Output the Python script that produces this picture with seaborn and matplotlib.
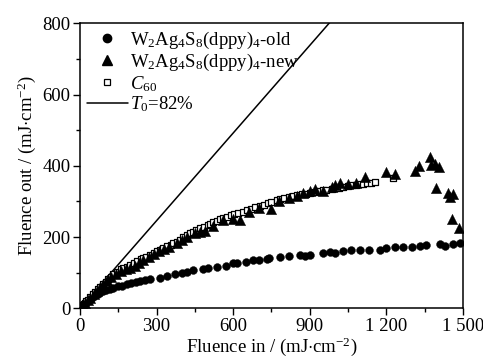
import matplotlib
matplotlib.use("Agg")
import matplotlib.pyplot as plt
import seaborn as sns
import pandas as pd
from matplotlib.lines import Line2D
from matplotlib.ticker import MultipleLocator

# ---- data ----
old_x = [5, 10, 15, 20, 25, 30, 38, 45, 52, 60, 70, 80, 90, 100, 117, 130, 150, 165, 183, 200,
         218, 235, 255, 274, 313, 340, 372, 400, 420, 444, 480, 500, 535, 570, 600, 615, 650, 678,
         700, 731, 740, 783, 820, 861, 880, 900, 950, 978, 1000, 1031, 1060, 1096, 1130, 1174,
         1200, 1235, 1265, 1300, 1330, 1357, 1409, 1430, 1460, 1487]
old_y = [4, 8, 12, 15, 18, 21, 25, 29, 33, 37, 41, 45, 48, 51, 55, 58, 62, 64, 67, 70,
         73, 77, 79, 81, 86, 90, 96, 100, 103, 108, 110, 112, 115, 120, 126, 126, 130, 136,
         135, 137, 140, 143, 146, 149, 148, 150, 155, 157, 156, 162, 163, 164, 165, 165,
         168, 172, 173, 171, 175, 178, 180, 176, 180, 182]

new_x = [5, 12, 20, 30, 40, 55, 65, 78, 90, 104, 120, 140, 160, 180, 196, 215, 230, 248, 270, 290,
         310, 330, 350, 378, 400, 420, 450, 470, 489, 520, 560, 600, 626, 660, 700, 750, 780, 820,
         850, 874, 900, 920, 950, 985, 1000, 1018, 1050, 1080, 1115, 1200, 1233, 1311, 1328, 1370,
         1374, 1389, 1406, 1393, 1442, 1461, 1451, 1455, 1483]
new_y = [4, 10, 16, 23, 30, 40, 48, 60, 68, 79, 88, 97, 104, 110, 112, 120, 128, 136, 144, 152,
         160, 166, 172, 184, 192, 200, 210, 214, 217, 230, 247, 252, 248, 270, 282, 278, 300, 310,
         316, 324, 330, 334, 330, 341, 345, 351, 350, 352, 369, 383, 376, 385, 399, 425,
         402, 404, 397, 337, 324, 321, 311, 252, 226]

c60_x = [5, 10, 15, 20, 25, 30, 40, 50, 60, 70, 80, 90, 100, 110, 120, 130, 145, 160, 170, 183,
         195, 210, 225, 240, 248, 260, 275, 290, 300, 313, 325, 340, 355, 365, 378, 390, 405, 420,
         430, 444, 455, 470, 485, 500, 509, 520, 535, 550, 560, 574, 590, 605, 620, 639, 655, 670,
         685, 705, 720, 735, 750, 770, 785, 800, 820, 835, 850, 870, 885, 900, 920, 935, 950, 965,
         985, 1000, 1015, 1031, 1050, 1065, 1080, 1096, 1110, 1125, 1140, 1155, 1224]
c60_y = [4, 8, 12, 16, 20, 24, 32, 39, 46, 54, 61, 68, 75, 82, 89, 96, 103, 109, 113, 117,
         122, 128, 134, 137, 140, 145, 151, 156, 160, 164, 169, 174, 179, 183, 187, 193, 199, 205,
         210, 215, 219, 224, 229, 234, 237, 241, 246, 251, 253, 257, 261, 264, 267, 271, 275, 279,
         283, 287, 291, 295, 299, 304, 307, 310, 313, 315, 317, 320, 322, 324, 327, 329, 331, 332,
         335, 337, 339, 341, 343, 345, 346, 348, 350, 352, 353, 355, 365]

t0_x = [0, 1000]
t0_y = [0, 820]

labels = [r"W$_2$Ag$_4$S$_8$(dppy)$_4$-old",
          r"W$_2$Ag$_4$S$_8$(dppy)$_4$-new",
          r"$C_{60}$",
          r"$T_0$=82%"]
x_ticks = [0, 300, 600, 900, 1200, 1500]
x_tick_labels = ["0", "300", "600", "900", "1 200", "1 500"]
y_ticks = [0, 200, 400, 600, 800]

# ---- style ----
sns.set_theme(style="ticks")
plt.rcParams["font.family"] = ["Liberation Serif", "DejaVu Serif"]
plt.rcParams["mathtext.fontset"] = "custom"
plt.rcParams["mathtext.rm"] = "Liberation Serif"
plt.rcParams["mathtext.it"] = "Liberation Serif:italic"
plt.rcParams["mathtext.bf"] = "Liberation Serif:bold"
for k in ["text.color", "axes.labelcolor", "xtick.color", "ytick.color", "axes.edgecolor"]:
    plt.rcParams[k] = "black"

FS = 13.5

fig = plt.figure(figsize=(4.83, 3.59), dpi=100)
ax = fig.add_axes([0.1656, 0.1412, 0.7930, 0.7940])

df_old = pd.DataFrame({"x": old_x, "y": old_y})
df_new = pd.DataFrame({"x": new_x, "y": new_y})
df_c60 = pd.DataFrame({"x": c60_x, "y": c60_y})
df_t0 = pd.DataFrame({"x": t0_x, "y": t0_y})

sns.lineplot(data=df_t0, x="x", y="y", ax=ax, color="black", linewidth=1.1)
sns.scatterplot(data=df_old, x="x", y="y", ax=ax, marker="o", s=32, color="black",
                edgecolor="black", linewidth=0.3, zorder=3)
sns.scatterplot(data=df_c60, x="x", y="y", ax=ax, marker="s", s=18, facecolor="white",
                edgecolor="black", linewidth=0.9, zorder=4)
sns.scatterplot(data=df_new, x="x", y="y", ax=ax, marker="^", s=55, color="black",
                edgecolor="black", linewidth=0.3, zorder=5)

ax.set_xlim(0, 1500)
ax.set_ylim(0, 800)
ax.set_xticks(x_ticks)
ax.set_xticklabels(x_tick_labels)
ax.set_yticks(y_ticks)
ax.xaxis.set_minor_locator(MultipleLocator(150))
ax.yaxis.set_minor_locator(MultipleLocator(100))
ax.tick_params(which="major", direction="out", length=5, width=1, labelsize=FS,
               colors="black", pad=2)
ax.tick_params(which="minor", direction="out", length=3, width=1, colors="black")
for sp in ax.spines.values():
    sp.set_visible(True)
    sp.set_linewidth(1.1)
    sp.set_color("black")

ax.set_xlabel(r"Fluence in / (mJ$\cdot$cm$^{-2}$)", fontsize=FS, labelpad=0)
ax.set_ylabel(r"Fluence out / (mJ$\cdot$cm$^{-2}$)", fontsize=FS, labelpad=3)

handles = [
    Line2D([], [], linestyle="none", marker="o", markersize=6, color="black"),
    Line2D([], [], linestyle="none", marker="^", markersize=7.5, color="black"),
    Line2D([], [], linestyle="none", marker="s", markersize=4.5, markerfacecolor="white",
           markeredgecolor="black", markeredgewidth=0.9),
    Line2D([], [], color="black", linewidth=1.1),
]
ax.legend(handles, labels, loc="upper left", frameon=False, fontsize=FS,
          handlelength=2.2, handletextpad=0.1, labelspacing=0.05,
          borderaxespad=0.0, borderpad=0.35, bbox_to_anchor=(0.0, 1.0))

fig.savefig("out.png", dpi=100)
